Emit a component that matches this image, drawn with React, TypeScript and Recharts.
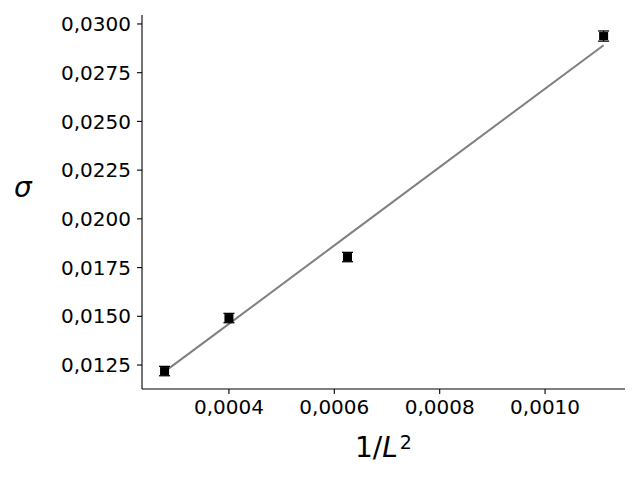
import { ComposedChart, Line, Scatter, ErrorBar, XAxis, YAxis } from "recharts";

// 1/L^2 for L = 60, 50, 40, 30
const invL2 = [0.0002778, 0.0004, 0.000625, 0.0011111];
const sigma = [0.01219, 0.01491, 0.01804, 0.02938];
const sigmaErr = [0.00024, 0.00024, 0.00024, 0.00026];
// linear fit evaluated at the same x values
const fitValues = [0.01216, 0.01461, 0.01914, 0.02891];

const xTicks = [0.0004, 0.0006, 0.0008, 0.001];
const yTicks = [0.0125, 0.015, 0.0175, 0.02, 0.0225, 0.025, 0.0275, 0.03];

const data = invL2.map((x, i) => ({ x, y: sigma[i], err: sigmaErr[i], fit: fitValues[i] }));

const fmt = (v: number) => v.toFixed(4).replace(".", ",");
const font = "DejaVu Sans, sans-serif";
const tickStyle = { fontSize: 20, fill: "#000", fontFamily: font };

const Square = (props: any) => {
  const { cx, cy } = props;
  return <rect x={cx - 4.5} y={cy - 4} width={9} height={8} fill="#000" />;
};

export default function App() {
  return (
    <div style={{ position: "absolute", left: 0, top: 0, width: 640, height: 480, background: "#fff", fontFamily: font }}>
      <ComposedChart width={640} height={480} data={data} margin={{ top: 15, right: 15, bottom: 0, left: 0 }}>
        <XAxis
          type="number"
          dataKey="x"
          domain={[0.000235, 0.0011517]}
          allowDataOverflow
          ticks={xTicks}
          tickFormatter={fmt}
          height={91}
          tick={tickStyle}
          tickSize={5}
          tickMargin={6}
          stroke="#000"
          strokeWidth={1.1}
        />
        <YAxis
          type="number"
          domain={[0.01127, 0.03046]}
          allowDataOverflow
          ticks={yTicks}
          tickFormatter={fmt}
          width={142}
          tick={tickStyle}
          tickSize={5}
          tickMargin={6}
          stroke="#000"
          strokeWidth={1.1}
        />
        <Line dataKey="fit" stroke="#808080" strokeWidth={2} dot={false} isAnimationActive={false} />
        <Scatter dataKey="y" fill="#000" shape={Square} isAnimationActive={false}>
          <ErrorBar dataKey="err" direction="y" width={5.5} stroke="#000" strokeWidth={1.3} isAnimationActive={false} />
        </Scatter>
      </ComposedChart>
      <div style={{ position: "absolute", left: 14, top: 172, fontSize: 28, fontStyle: "italic", lineHeight: "32px" }}>σ</div>
      <div style={{ position: "absolute", left: 355, top: 431, fontSize: 28, lineHeight: "34px", whiteSpace: "nowrap" }}>
        1/<i>L</i>
        <sup style={{ fontSize: 19, verticalAlign: "top", position: "relative", top: -6, marginLeft: 2 }}>2</sup>
      </div>
    </div>
  );
}
